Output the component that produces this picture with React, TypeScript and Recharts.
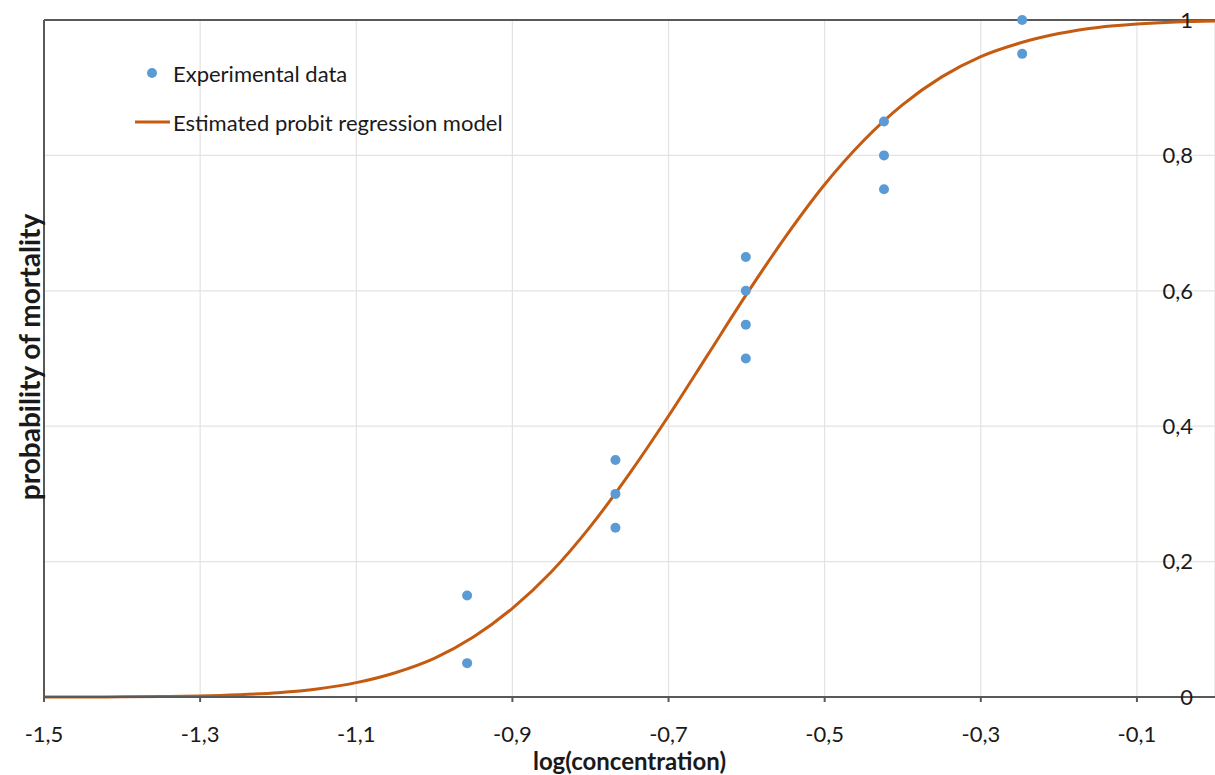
import React from "react";
import {
  ComposedChart,
  Line,
  Scatter,
  XAxis,
  YAxis,
  CartesianGrid,
  ReferenceLine,
} from "recharts";

// Experimental observations: log(concentration) and observed mortality
const expLogConc = [-0.958, -0.958, -0.768, -0.768, -0.768, -0.601, -0.601, -0.601, -0.601, -0.424, -0.424, -0.424, -0.247, -0.247];
const expMortality = [0.15, 0.05, 0.35, 0.3, 0.25, 0.65, 0.6, 0.55, 0.5, 0.85, 0.8, 0.75, 1.0, 0.95];

// Estimated probit regression curve
const curveLogConc = [-1.5, -1.45, -1.4, -1.35, -1.3, -1.25, -1.2, -1.15, -1.1, -1.05, -1.0, -0.95, -0.9, -0.85, -0.8, -0.75, -0.7, -0.65, -0.6, -0.55, -0.5, -0.45, -0.4, -0.35, -0.3, -0.25, -0.2, -0.15, -0.1, -0.05, 0];
const curveProb = [0.0001, 0.0001, 0.0003, 0.0008, 0.0016, 0.0034, 0.0064, 0.0119, 0.0212, 0.0359, 0.0571, 0.0885, 0.131, 0.185, 0.252, 0.33, 0.415, 0.505, 0.595, 0.68, 0.757, 0.822, 0.875, 0.916, 0.946, 0.966, 0.98, 0.989, 0.994, 0.997, 0.9985];

const xTicks = [-1.5, -1.3, -1.1, -0.9, -0.7, -0.5, -0.3, -0.1];
const yTicks = [0, 0.2, 0.4, 0.6, 0.8, 1];

const legendLabels = ["Experimental data", "Estimated probit regression model"];

const expData = expLogConc.map((x, i) => ({ x, y: expMortality[i] }));
const curveData = curveLogConc.map((x, i) => ({ x, y: curveProb[i] }));

const FONT = "Lato, 'Open Sans', sans-serif";
const BLUE = "#5B9BD5";
const ORANGE = "#C55A11";
const AXIS = "#595959";
const GRID = "#e3e3e3";
const TEXT = "#1a1a1a";

const fmt = (v: number) => {
  if (Math.abs(v) < 1e-9) return "0";
  if (Math.abs(v - 1) < 1e-9) return "1";
  return v.toFixed(1).replace(".", ",");
};

export default function App() {
  return (
    <div style={{ position: "absolute", left: 0, top: 0, width: 1215, height: 775, background: "#fff" }}>
      <ComposedChart
        width={1215}
        height={775}
        margin={{ top: 20, right: 0, left: 0, bottom: 0 }}
      >
        <CartesianGrid stroke={GRID} strokeWidth={1.2} yAxisId="r" horizontalValues={[0.2, 0.4, 0.6, 0.8]} />
        <XAxis
          dataKey="x"
          type="number"
          domain={[-1.5, 0]}
          ticks={xTicks}
          allowDataOverflow
          height={78}
          tickSize={5}
          tickMargin={24}
          stroke={AXIS}
          strokeWidth={2}
          tickFormatter={fmt}
          tick={{ fontSize: 22, fontFamily: FONT, fill: TEXT }}
          label={(p: any) => {
            const vb = p.viewBox;
            return (
              <text
                x={vb.x + vb.width / 2}
                y={vb.y + vb.height - 5}
                textAnchor="middle"
                fontSize={24}
                fontWeight="bold"
                fontFamily={FONT}
                fill={TEXT}
              >
                log(concentration)
              </text>
            );
          }}
        />
        <YAxis
          yAxisId="l"
          orientation="left"
          type="number"
          domain={[0, 1]}
          ticks={yTicks}
          width={44}
          tick={false}
          tickLine={false}
          stroke={AXIS}
          strokeWidth={2}
          label={(p: any) => {
            const vb = p.viewBox;
            const cx = vb.x + 29;
            const cy = 357;
            return (
              <text
                x={cx}
                y={cy}
                transform={`rotate(-90 ${cx} ${cy})`}
                textAnchor="middle"
                dominantBaseline="central"
                fontSize={28}
                fontWeight="bold"
                fontFamily={FONT}
                fill={TEXT}
              >
                probability of mortality
              </text>
            );
          }}
        />
        <YAxis
          yAxisId="r"
          orientation="right"
          type="number"
          domain={[0, 1]}
          ticks={yTicks}
          width={1}
          mirror
          axisLine={false}
          tickLine={false}
          tickSize={0}
          tickMargin={22}
          tickFormatter={fmt}
          tick={{ fontSize: 22, fontFamily: FONT, fill: TEXT }}
        />
        <ReferenceLine yAxisId="r" y={1} stroke={AXIS} strokeWidth={2} />
        <Line
          yAxisId="r"
          data={curveData}
          dataKey="y"
          type="monotone"
          stroke={ORANGE}
          strokeWidth={3}
          dot={false}
          activeDot={false}
          isAnimationActive={false}
        />
        <Scatter
          yAxisId="r"
          data={expData}
          dataKey="y"
          fill={BLUE}
          isAnimationActive={false}
          shape={(p: any) => <circle cx={p.cx} cy={p.cy} r={5} fill={BLUE} />}
        />
      </ComposedChart>
      <div style={{ position: "absolute", left: 135, top: 58, fontFamily: FONT, fontSize: 22, color: TEXT, pointerEvents: "none" }}>
        <div style={{ display: "flex", alignItems: "center", height: 30 }}>
          <svg width={38} height={20}>
            <circle cx={17} cy={10} r={5} fill={BLUE} />
          </svg>
          <span>{legendLabels[0]}</span>
        </div>
        <div style={{ display: "flex", alignItems: "center", height: 30, marginTop: 19 }}>
          <svg width={38} height={20}>
            <line x1={0} y1={10} x2={35} y2={10} stroke={ORANGE} strokeWidth={3} />
          </svg>
          <span>{legendLabels[1]}</span>
        </div>
      </div>
    </div>
  );
}
